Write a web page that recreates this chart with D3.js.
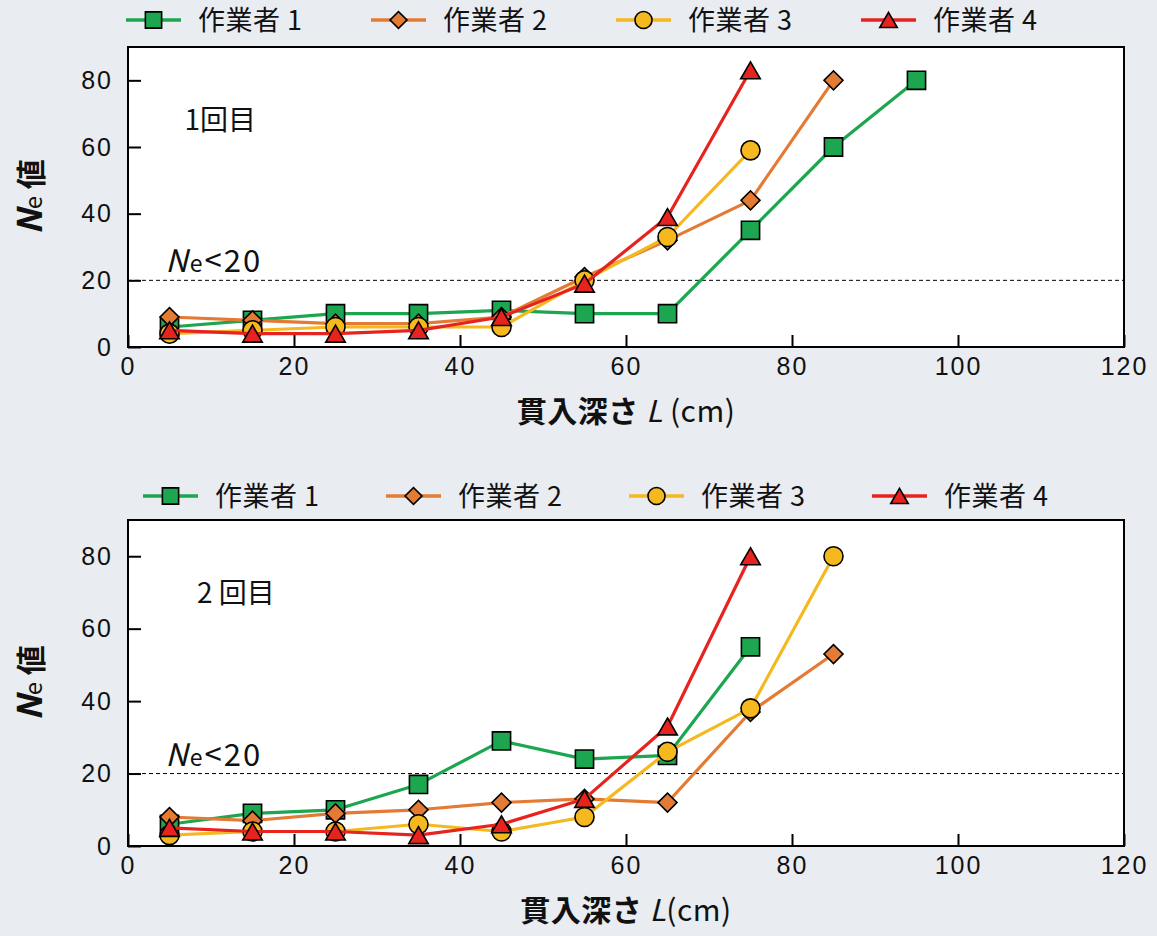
<!DOCTYPE html>
<html>
<head>
<meta charset="utf-8">
<script src="https://cdn.jsdelivr.net/npm/d3@7"></script>
<style>
  body { margin: 0; background: #e9ecf1; }
  svg { display: block; font-family: "Noto Sans CJK JP", "Noto Sans", sans-serif; }
  .axis text { font-size: 25px; fill: #111; letter-spacing: 2px; }
  .axis line { stroke: #000; stroke-width: 2px; }
</style>
</head>
<body>
<div id="chart"></div>
<script>
// penetration depth (cm)
var depths = [5, 15, 25, 35, 45, 55, 65, 75, 85, 95];
var workers = ['作業者 1', '作業者 2', '作業者 3', '作業者 4'];
var xTicks = [0, 20, 40, 60, 80, 100, 120];
var yTicks = [0, 20, 40, 60, 80];

// 1回目
var run1Worker1 = [6, 8, 10, 10, 11, 10, 10, 35, 60, 80];
var run1Worker2 = [9, 8, 7, 7, 9, 21, 32, 44, 80];
var run1Worker3 = [4, 5, 6, 6, 6, 20, 33, 59];
var run1Worker4 = [5, 4, 4, 5, 9, 19, 39, 83];

// 2回目
var run2Worker1 = [6, 9, 10, 17, 29, 24, 25, 55];
var run2Worker2 = [8, 7, 9, 10, 12, 13, 12, 37, 53];
var run2Worker3 = [3, 4, 4, 6, 4, 8, 26, 38, 80];
var run2Worker4 = [5, 4, 4, 3, 6, 13, 33, 80];

var threshold = 20;

var colors = ['#1ca64f', '#e47b34', '#f5b81e', '#e7231f'];

// triangle centred on its bounding box (like spreadsheet markers), not on the centroid
var boxTriangle = {
    draw: function(context, size) {
        var s = Math.sqrt(size * 4 / Math.sqrt(3)),
            h = s * Math.sqrt(3) / 2;
        context.moveTo(0, -h / 2);
        context.lineTo(s / 2, h / 2);
        context.lineTo(-s / 2, h / 2);
        context.closePath();
    }
};

var symbols = [
    {type: d3.symbolSquare, size: 330, rotate: 0},
    {type: d3.symbolSquare, size: 180, rotate: 45},
    {type: d3.symbolCircle, size: 285, rotate: 0},
    {type: boxTriangle, size: 165, rotate: 0}
];

var W = 1157, H = 936;
var svg = d3.select('#chart').append('svg')
    .attr('width', W)
    .attr('height', H);

svg.append('rect').attr('width', W).attr('height', H).attr('fill', '#e9ecf1');

function marker(sel, i, scale) {
    var s = symbols[i];
    sel.append('path')
        .attr('d', d3.symbol().type(s.type).size(s.size * (scale || 1)))
        .attr('transform', function(d) {
            return 'translate(' + d[0] + ',' + d[1] + ') rotate(' + s.rotate + ')';
        })
        .attr('fill', colors[i])
        .attr('stroke', '#000')
        .attr('stroke-width', 1.6);
}

function panel(opt) {
    var x = d3.scaleLinear().domain([0, 120]).range([opt.left, opt.right]),
        y = d3.scaleLinear().domain([0, 90]).range([opt.bottom, opt.top]);

    var g = svg.append('g');

    // legend
    var leg = g.selectAll('.leg')
        .data(workers)
        .enter().append('g')
        .attr('class', 'leg')
        .attr('transform', function(d, i) {
            return 'translate(' + (opt.legendX + i * opt.legendStep) + ',' + opt.legendY + ')';
        });
    leg.append('line')
        .attr('x1', 0).attr('x2', 55)
        .attr('stroke', function(d, i) { return colors[i]; })
        .attr('stroke-width', 3.5);
    leg.each(function(d, i) {
        marker(d3.select(this).append('g').datum([27.5, 0]), i, 0.8);
    });
    leg.append('text')
        .attr('x', 72)
        .attr('dy', '0.36em')
        .style('font-size', '27px')
        .style('letter-spacing', '0.5px')
        .attr('fill', '#111')
        .text(function(d) { return d; });

    // plot area
    g.append('rect')
        .attr('x', opt.left).attr('y', opt.top)
        .attr('width', opt.right - opt.left)
        .attr('height', opt.bottom - opt.top)
        .attr('fill', '#fff');

    g.append('g')
        .attr('class', 'axis axis--x')
        .attr('transform', 'translate(0,' + opt.bottom + ')')
        .call(d3.axisBottom(x).tickValues(xTicks).tickSize(-12).tickPadding(10))
        .call(function(a) { a.select('.domain').remove(); });

    g.append('g')
        .attr('class', 'axis axis--y')
        .attr('transform', 'translate(' + opt.left + ',0)')
        .call(d3.axisLeft(y).tickValues(yTicks).tickSize(-13).tickPadding(15))
        .call(function(a) { a.select('.domain').remove(); });

    // threshold line
    g.append('line')
        .attr('x1', opt.left).attr('x2', opt.right)
        .attr('y1', y(threshold)).attr('y2', y(threshold))
        .attr('stroke', '#000')
        .attr('stroke-width', 1)
        .attr('stroke-dasharray', '4,3');

    var lab = g.append('text')
        .attr('x', x(4.5))
        .attr('y', y(threshold) - 8)
        .style('font-size', '31px')
        .style('letter-spacing', '2px')
        .attr('fill', '#111');
    lab.append('tspan').style('font-style', 'italic').text('N');
    lab.append('tspan').style('font-size', '23px').text('e');
    lab.append('tspan').text('<20');

    g.append('text')
        .attr('x', x(opt.runX))
        .attr('y', y(opt.runY))
        .style('font-size', '28px')
        .attr('fill', '#111')
        .text(opt.runLabel);

    // series
    var line = d3.line()
        .x(function(d) { return d[0]; })
        .y(function(d) { return d[1]; });

    opt.series.forEach(function(vals, i) {
        var pts = vals.map(function(v, j) { return [x(depths[j]), y(v)]; });
        var sg = g.append('g').attr('class', 'series');
        sg.append('path')
            .attr('d', line(pts))
            .attr('fill', 'none')
            .attr('stroke', colors[i])
            .attr('stroke-width', 3.2)
            .attr('stroke-linejoin', 'round');
        sg.selectAll('.m').data(pts).enter().append('g').attr('class', 'm')
            .each(function() { marker(d3.select(this), i); });
    });

    // frame
    g.append('rect')
        .attr('x', opt.left).attr('y', opt.top)
        .attr('width', opt.right - opt.left)
        .attr('height', opt.bottom - opt.top)
        .attr('fill', 'none')
        .attr('stroke', '#000')
        .attr('stroke-width', 2);

    // axis titles
    g.append('text')
        .attr('x', (opt.left + opt.right) / 2)
        .attr('y', opt.bottom + 75)
        .attr('text-anchor', 'middle')
        .style('font-size', '30px')
        .style('letter-spacing', '0.5px')
        .attr('fill', '#111')
        .call(function(t) {
            t.append('tspan').style('font-weight', 'bold').text('貫入深さ ');
            t.append('tspan').style('font-style', 'italic').text('L');
            t.append('tspan').text(opt.unit);
        });

    var yl = g.append('text')
        .attr('transform', 'translate(42,' + ((opt.top + opt.bottom) / 2) + ') rotate(-90)')
        .attr('text-anchor', 'middle')
        .style('font-size', '30px')
        .style('font-weight', 'bold')
        .attr('fill', '#111');
    yl.append('tspan').style('font-style', 'italic').style('font-size', '34px').text('N');
    yl.append('tspan').style('font-size', '24px').style('font-weight', 'normal').text('e');
    yl.append('tspan').text(' 値');
}

panel({
    left: 128, right: 1124, top: 47, bottom: 347,
    legendX: 126, legendStep: 245, legendY: 20,
    runLabel: '1回目', runX: 6.8, runY: 65,
    unit: ' (cm)',
    series: [run1Worker1, run1Worker2, run1Worker3, run1Worker4]
});

panel({
    left: 128, right: 1124, top: 520, bottom: 846,
    legendX: 143, legendStep: 243, legendY: 496,
    runLabel: '2 回目', runX: 8.3, runY: 67,
    unit: '(cm)',
    series: [run2Worker1, run2Worker2, run2Worker3, run2Worker4]
});
</script>
</body>
</html>
